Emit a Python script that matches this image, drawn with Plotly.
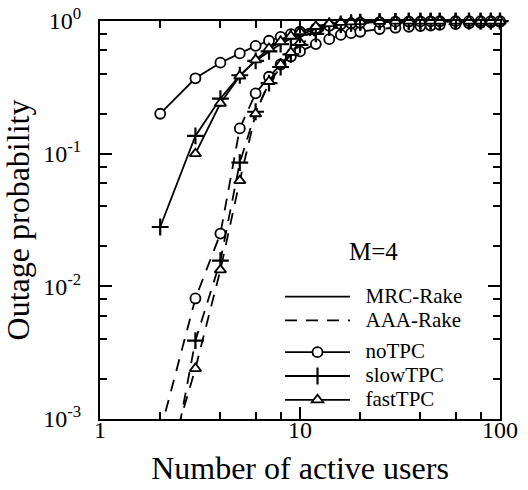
import plotly.graph_objects as go

# ---- data ----
users = [2, 3, 4, 5, 6, 7, 8, 9, 10, 12, 14, 16, 18, 20, 25, 30, 35, 40, 45, 50, 60, 70, 80, 90, 100]

mrc_notpc = [0.20, 0.37, 0.485, 0.57, 0.65, 0.71, 0.76, 0.795, 0.83, 0.88, 0.92, 0.945, 0.96, 0.97,
             0.982, 0.988, 0.991, 0.993, 0.995, 0.996, 0.997, 0.998, 0.998, 0.999, 0.999]
mrc_slowtpc = [0.028, 0.136, 0.26, 0.39, 0.50, 0.59, 0.67, 0.74, 0.79, 0.87, 0.92, 0.95, 0.97, 0.98,
               0.99, 0.994, 0.996, 0.997, 0.998, 0.998, 0.999, 0.999, 0.999, 0.999, 0.999]
mrc_fasttpc = [None, 0.10, 0.24, 0.385, 0.51, 0.62, 0.70, 0.77, 0.83, 0.91, 0.955, 0.975, 0.985, 0.99,
               0.995, 0.997, 0.998, 0.999, 0.999, 0.999, 0.999, 0.999, 0.999, 0.999, 0.999]

aaa_notpc = [8.0e-4, 0.0081, 0.025, 0.155, 0.285, 0.38, 0.47, 0.54, 0.59, 0.67, 0.73, 0.785, 0.81, 0.83,
             0.87, 0.89, 0.905, 0.917, 0.925, 0.935, 0.95, 0.96, 0.97, 0.977, 0.985]
aaa_slowtpc = [1.5e-4, 0.0039, 0.0156, 0.0855, 0.207, 0.34, 0.45, 0.56, 0.66, 0.80, 0.89, 0.94, 0.96, 0.975,
               0.99, 0.994, 0.996, 0.997, 0.998, 0.998, 0.999, 0.999, 0.999, 0.999, 0.999]
aaa_fasttpc = [3.0e-4, 0.0024, 0.0133, 0.0626, 0.20, 0.35, 0.47, 0.58, 0.69, 0.84, 0.92, 0.96, 0.98, 0.99,
               0.995, 0.997, 0.998, 0.999, 0.999, 0.999, 0.999, 0.999, 0.999, 0.999, 0.999]

y_major = [0.001, 0.01, 0.1, 1]
y_major_text = ["10<sup>-3</sup>", "10<sup>-2</sup>", "10<sup>-1</sup>", "10<sup>0</sup>"]
x_major = [1, 10, 100]
x_major_text = ["1", "10", "100"]
x_minor = [2, 4, 6, 8, 20, 40, 60, 80]
y_minor = [0.002, 0.004, 0.006, 0.008, 0.02, 0.04, 0.06, 0.08, 0.2, 0.4, 0.6, 0.8]

FONT = "Liberation Serif, Times New Roman, serif"
YMIN = 1e-3

markers = {
    "noTPC": dict(symbol="circle", size=10, color="white", opacity=1,
                  line=dict(color="black", width=1.8)),
    "slowTPC": dict(symbol="cross-thin", size=12, color="black", opacity=1,
                    line=dict(color="black", width=2.2)),
    "fastTPC": dict(symbol="triangle-up", size=10, color="white", opacity=1,
                    line=dict(color="black", width=1.8)),
}
DASH = "12px,9px"

fig = go.Figure()


def add_series(vals, kind, dash):
    m = dict(markers[kind])
    m["size"] = [0 if (v is None or v < YMIN) else markers[kind]["size"] for v in vals]
    fig.add_trace(go.Scatter(
        x=users, y=vals, mode="lines+markers",
        line=dict(color="black", width=1.8, dash=dash),
        marker=m, showlegend=False, cliponaxis=False, connectgaps=False,
    ))


add_series(aaa_notpc, "noTPC", DASH)
add_series(aaa_slowtpc, "slowTPC", DASH)
add_series(aaa_fasttpc, "fastTPC", DASH)
add_series(mrc_notpc, "noTPC", "solid")
add_series(mrc_slowtpc, "slowTPC", "solid")
add_series(mrc_fasttpc, "fastTPC", "solid")


def leg(t):
    return '<span style="font-size:21px">\u2002' + t + '</span>'


# legend entries
fig.add_trace(go.Scatter(x=[None], y=[None], mode="lines", name=leg("MRC-Rake"),
                         line=dict(color="black", width=1.8), legendgroup="rx"))
fig.add_trace(go.Scatter(x=[None], y=[None], mode="lines", name=leg("AAA-Rake"),
                         line=dict(color="black", width=1.8, dash=DASH), legendgroup="rx"))
for k in ["noTPC", "slowTPC", "fastTPC"]:
    fig.add_trace(go.Scatter(x=[None], y=[None], mode="lines+markers", name=leg(k),
                             line=dict(color="black", width=1.8), marker=markers[k],
                             legendgroup="tpc"))

axis_common = dict(
    type="log", showline=True, linecolor="black", linewidth=2, mirror="ticks",
    ticks="inside", ticklen=12, tickwidth=2, tickcolor="black",
    showgrid=False, zeroline=False, tickmode="array", automargin=False,
    tickfont=dict(family=FONT, size=24, color="black"),
)

fig.update_layout(
    width=528, height=490,
    margin=dict(l=100, r=28, t=21, b=71),
    paper_bgcolor="white", plot_bgcolor="white",
    font=dict(family=FONT, color="black"),
    xaxis=dict(
        **axis_common, range=[0, 2], tickvals=x_major, ticktext=x_major_text,
        minor=dict(tickmode="array", tickvals=x_minor, ticks="inside", ticklen=7,
                   tickwidth=2, tickcolor="black", showgrid=False),
        title=dict(text="Number of active users", font=dict(family=FONT, size=32, color="black")),
        ticklabelstandoff=-12,
    ),
    yaxis=dict(
        **axis_common, range=[-3, 0], tickvals=y_major, ticktext=y_major_text,
        minor=dict(tickmode="array", tickvals=y_minor, ticks="inside", ticklen=7,
                   tickwidth=2, tickcolor="black", showgrid=False),
        title=dict(text="Outage probability", font=dict(family=FONT, size=32, color="black")),
        ticklabelstandoff=12,
    ),
    legend=dict(
        x=0.45, y=0.35, xanchor="left", yanchor="top",
        font=dict(family=FONT, size=16, color="black"),
        bgcolor="rgba(0,0,0,0)", itemwidth=65, tracegroupgap=8, traceorder="grouped",
    ),
    annotations=[dict(text="M=4", xref="paper", yref="paper", x=0.75, y=0.42,
                      showarrow=False, font=dict(family=FONT, size=25, color="black"))],
)

fig.write_html("out.html")
